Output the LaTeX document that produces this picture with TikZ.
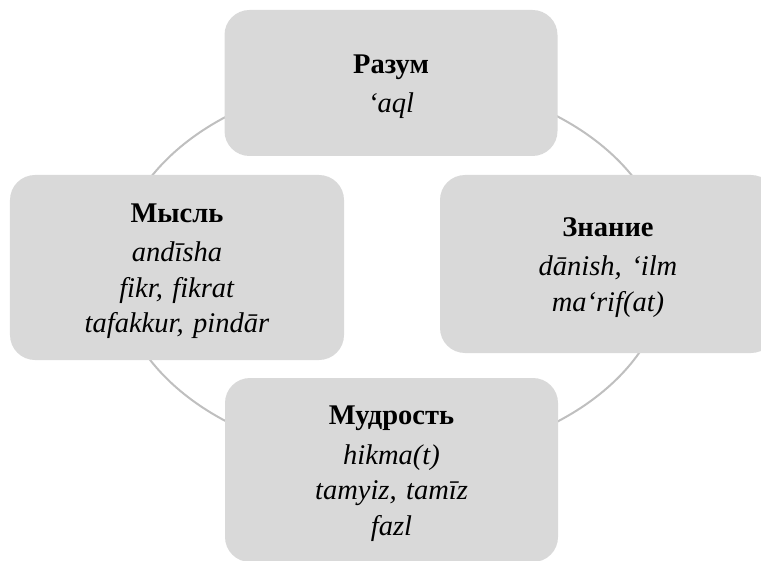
\documentclass[tikz,border=0pt]{standalone}
\usepackage{fontspec}
\setmainfont{Liberation Serif}
\definecolor{boxgray}{HTML}{D9D9D9}
\definecolor{ringgray}{HTML}{BFBFBF}
\tikzset{
  cbox/.style={draw=none, fill=boxgray, rounded corners=25bp, align=center,
    font=\fontsize{28.5bp}{35.5bp}\selectfont, inner sep=0pt, text width=320bp}
}
\newcommand{\boxttl}[1]{\rule{0pt}{26bp}\textbf{#1}\\[4bp]}
\begin{document}
\begin{tikzpicture}[x=1bp,y=-1bp]
\useasboundingbox (0,0) rectangle (761,561);
\clip (0,0) rectangle (761,561);
\draw[ringgray, line width=2bp] (392,269) ellipse [x radius=275, y radius=191];
\node[cbox, minimum width=333bp, minimum height=146bp] (razum) at (391,83)
  {\boxttl{Разум}\textit{‘aql}};
\node[cbox, minimum width=334bp, minimum height=185bp] (mysl) at (177,267.5)
  {\boxttl{Мысль}\textit{andīsha}\\\textit{fikr, fikrat}\\\textit{tafakkur, pindār}};
\node[cbox, minimum width=336bp, minimum height=178bp] (znanie) at (608,264)
  {\boxttl{Знание}\textit{dānish, ‘ilm}\\\textit{ma‘rif(at)}};
\node[cbox, minimum width=333bp, minimum height=184bp] (mudrost) at (391.5,470)
  {\boxttl{Мудрость}\textit{hikma(t)}\\\textit{tamyiz, tamīz}\\\textit{fazl}};
\end{tikzpicture}
\end{document}
